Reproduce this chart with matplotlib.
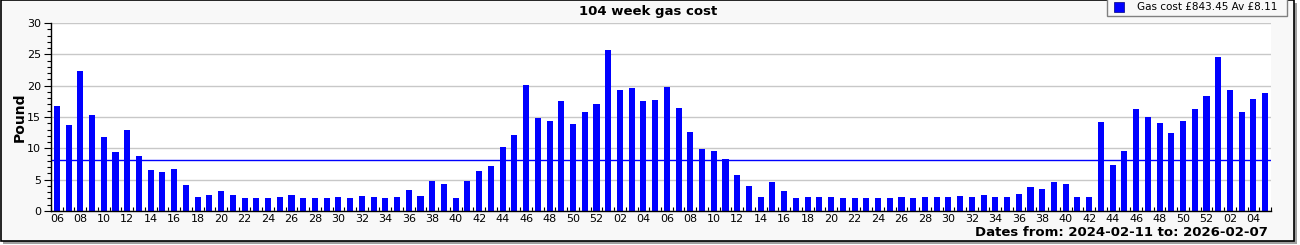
import matplotlib
matplotlib.use("Agg")
import matplotlib.pyplot as plt
from matplotlib.patches import Rectangle
import numpy as np

weeks_2024 = [f"{w:02d}" for w in range(6, 53)]
weeks_2025 = [f"{w:02d}" for w in range(1, 53)]
weeks_2026 = [f"{w:02d}" for w in range(1, 6)]
week_labels = weeks_2024 + weeks_2025 + weeks_2026

cost_2024 = [16.78, 13.75, 22.38, 15.34, 11.83, 9.43, 12.95, 8.79, 6.55, 6.23,
             6.71, 4.16, 2.24, 2.56, 3.20, 2.56, 2.08, 2.08, 2.08, 2.24,
             2.56, 2.08, 2.08, 2.08, 2.24, 2.08, 2.40, 2.24, 2.08, 2.24,
             3.36, 2.40, 4.79, 4.32, 2.08, 4.79, 6.39, 7.19, 10.23, 12.15,
             20.14, 14.86, 14.38, 17.58, 13.90, 15.82, 17.10]
cost_2025 = [25.73, 19.34, 19.66, 17.58, 17.74, 19.82, 16.46, 12.63, 9.91, 9.59,
             8.31, 5.75, 4.00, 2.24, 4.64, 3.20, 2.08, 2.24, 2.24, 2.24,
             2.08, 2.08, 2.08, 2.08, 2.08, 2.24, 2.08, 2.24, 2.24, 2.24,
             2.40, 2.24, 2.56, 2.24, 2.24, 2.72, 3.84, 3.52, 4.64, 4.32,
             2.24, 2.24, 14.22, 7.35, 9.59, 16.30, 15.02, 14.06, 12.47, 14.38,
             16.30, 18.38]
cost_2026 = [24.61, 19.34, 15.82, 17.90, 18.86]
costs = cost_2024 + cost_2025 + cost_2026

title = "104 week gas cost"
ylabel = "Pound"
legend_label = "Gas cost £843.45 Av £8.11"
average = 8.11
date_text = "Dates from: 2024-02-11 to: 2026-02-07"

W, H = 1300, 245
fig = plt.figure(figsize=(W / 100, H / 100), dpi=100)
fig.patch.set_facecolor("white")

# frame with shadow
fig.patches.append(Rectangle((3 / W, 1 / H), 1294 / W, 241 / H, transform=fig.transFigure,
                             facecolor="#a0a0a0", edgecolor="none", zorder=-3))
fig.patches.append(Rectangle((0.5 / W, 4.5 / H), 1293.5 / W, 240 / H, transform=fig.transFigure,
                             facecolor="#f8f8f8", edgecolor="black", linewidth=1.2, zorder=-2))

ax = fig.add_axes([51 / W, 1 - 211 / H, (1271 - 51) / W, (211 - 23) / H])
ax.set_facecolor("white")
x = np.arange(len(costs))
ax.bar(x, costs, width=0.52, color="#0000ff", zorder=3)
ax.axhline(average, color="#0000ff", linewidth=1.0, zorder=4)

ax.set_xlim(-0.5, len(costs) - 0.5)
ax.set_ylim(0, 30)
ax.set_yticks(np.arange(0, 31, 5))
ax.set_yticks(np.arange(0, 31, 1), minor=True)
ax.yaxis.grid(True, which="major", color="#c8c8c8", linewidth=1.0, zorder=0)

lab_pos = [i for i, w in enumerate(week_labels) if int(w) % 2 == 0]
ax.set_xticks(lab_pos)
ax.set_xticklabels([week_labels[i] for i in lab_pos])
ax.set_xticks(np.arange(-0.5, len(costs), 1), minor=True)
ax.tick_params(axis="x", which="major", length=0, pad=2, labelsize=8)
ax.tick_params(axis="x", which="minor", direction="in", length=3, width=0.8)
ax.tick_params(axis="y", which="major", direction="out", length=5, width=0.8, labelsize=8, pad=2)
ax.tick_params(axis="y", which="minor", direction="out", length=3, width=0.8)

for s in ["top", "right"]:
    ax.spines[s].set_visible(False)
for s in ["left", "bottom"]:
    ax.spines[s].set_color("black")
    ax.spines[s].set_linewidth(1.0)
    ax.spines[s].set_zorder(5)

ax.set_ylabel(ylabel, fontsize=10, fontweight="bold", va="center")
ax.yaxis.set_label_coords((20 - 51) / 1220, 0.5)

fig.text(648 / W, 1 - 11 / H, title, ha="center", va="center", fontsize=9.5, fontweight="bold")
fig.text(1268 / W, 1 - 232 / H, date_text, ha="right", va="center", fontsize=9.5, fontweight="bold")

# legend box
fig.patches.append(Rectangle((1107 / W, 1 - 16 / H), 180 / W, 18 / H, transform=fig.transFigure,
                             facecolor="#f8f8f8", edgecolor="#808080", linewidth=1.0, zorder=5))
fig.patches.append(Rectangle((1114 / W, 1 - 12 / H), 10 / W, 10 / H, transform=fig.transFigure,
                             facecolor="#0000ff", edgecolor="#000080", linewidth=0.5, zorder=6))
fig.text(1137 / W, 1 - 7 / H, legend_label, ha="left", va="center", fontsize=7.5, zorder=7)

fig.savefig("out.png", dpi=100, facecolor=fig.get_facecolor())
